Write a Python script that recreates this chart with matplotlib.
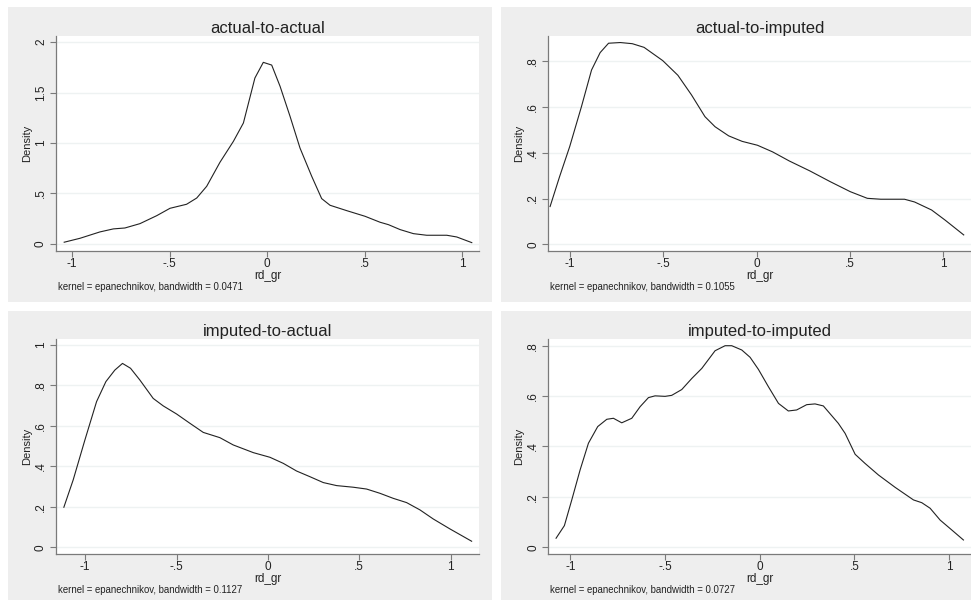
import matplotlib
matplotlib.use("Agg")
import matplotlib.pyplot as plt
from matplotlib.patches import Rectangle

plt.rcParams["font.family"] = ["Liberation Sans", "DejaVu Sans"]

W, H = 971, 600

# ---- data (kernel density curves of rd_gr) ----
aa_x = [-1.04, -0.959, -0.857, -0.788, -0.729, -0.652, -0.566, -0.498, -0.413, -0.361,
        -0.31, -0.242, -0.173, -0.122, -0.063, -0.02, 0.023, 0.066, 0.117, 0.168,
        0.228, 0.279, 0.322, 0.407, 0.501, 0.578, 0.621, 0.681, 0.749, 0.817,
        0.92, 0.971, 1.048]
aa_y = [0.017, 0.056, 0.119, 0.149, 0.158, 0.201, 0.28, 0.353, 0.393, 0.455,
        0.571, 0.809, 1.017, 1.198, 1.644, 1.799, 1.772, 1.561, 1.264, 0.95,
        0.67, 0.449, 0.383, 0.33, 0.274, 0.215, 0.191, 0.142, 0.102, 0.086,
        0.086, 0.069, 0.013]

ai_x = [-1.105, -1.054, -1.0, -0.937, -0.883, -0.837, -0.792, -0.729, -0.665, -0.602,
        -0.502, -0.421, -0.348, -0.276, -0.222, -0.149, -0.077, 0.005, 0.086, 0.176,
        0.285, 0.394, 0.502, 0.593, 0.665, 0.792, 0.846, 0.937, 1.009, 1.109]
ai_y = [0.165, 0.296, 0.427, 0.602, 0.762, 0.838, 0.879, 0.882, 0.877, 0.861,
        0.803, 0.739, 0.653, 0.558, 0.514, 0.474, 0.45, 0.433, 0.404, 0.364,
        0.321, 0.274, 0.23, 0.201, 0.197, 0.197, 0.185, 0.15, 0.106, 0.041]

ia_x = [-1.117, -1.066, -1.002, -0.938, -0.887, -0.838, -0.796, -0.752, -0.701, -0.628,
        -0.573, -0.5, -0.427, -0.354, -0.263, -0.19, -0.08, 0.011, 0.084, 0.157,
        0.23, 0.303, 0.376, 0.467, 0.54, 0.613, 0.686, 0.759, 0.832, 0.905,
        0.996, 1.115]
ia_y = [0.198, 0.333, 0.53, 0.72, 0.819, 0.876, 0.909, 0.885, 0.827, 0.736,
        0.699, 0.659, 0.613, 0.568, 0.542, 0.506, 0.468, 0.445, 0.415, 0.377,
        0.349, 0.32, 0.305, 0.297, 0.288, 0.267, 0.242, 0.221, 0.185, 0.14,
        0.091, 0.03]

ii_x = [-1.076, -1.032, -0.993, -0.949, -0.905, -0.856, -0.808, -0.773, -0.729, -0.676,
        -0.632, -0.588, -0.553, -0.5, -0.465, -0.412, -0.359, -0.306, -0.236, -0.183,
        -0.148, -0.095, -0.051, -0.007, 0.046, 0.099, 0.151, 0.195, 0.248, 0.292,
        0.336, 0.415, 0.451, 0.504, 0.556, 0.627, 0.715, 0.812, 0.856, 0.9,
        0.953, 1.014, 1.076]
ii_y = [0.036, 0.086, 0.188, 0.307, 0.413, 0.479, 0.508, 0.512, 0.494, 0.512,
        0.558, 0.594, 0.601, 0.599, 0.603, 0.626, 0.67, 0.71, 0.78, 0.8,
        0.8, 0.783, 0.754, 0.706, 0.637, 0.571, 0.541, 0.545, 0.566, 0.569,
        0.561, 0.492, 0.452, 0.369, 0.333, 0.287, 0.238, 0.188, 0.177, 0.155,
        0.108, 0.069, 0.029]

titles = ["actual-to-actual", "actual-to-imputed", "imputed-to-actual", "imputed-to-imputed"]
bandwidths = ["0.0471", "0.1055", "0.1127", "0.0727"]

x_ticks = [-1, -0.5, 0, 0.5, 1]
x_ticklabels = ["-1", "-.5", "0", ".5", "1"]
aa_yticks = [0, 0.5, 1, 1.5, 2]
aa_yticklabels = ["0", ".5", "1", "1.5", "2"]
ai_yticks = [0, 0.2, 0.4, 0.6, 0.8]
ai_yticklabels = ["0", ".2", ".4", ".6", ".8"]
ia_yticks = [0, 0.2, 0.4, 0.6, 0.8, 1]
ia_yticklabels = ["0", ".2", ".4", ".6", ".8", "1"]
ii_yticks = ai_yticks
ii_yticklabels = ai_yticklabels

# ---- layout (pixels): gray graph region, plot region, axis limits ----
panels = [
    dict(x=aa_x, y=aa_y, yt=aa_yticks, ytl=aa_yticklabels,
         bg=(8, 7, 484, 295), box=(56, 36, 479, 251),
         xlim=(-1.082, 1.085), ylim=(-0.07, 2.06)),
    dict(x=ai_x, y=ai_y, yt=ai_yticks, ytl=ai_yticklabels,
         bg=(501, 7, 480, 295), box=(548.3, 36, 971, 251),
         xlim=(-1.1145, 1.148), ylim=(-0.0293, 0.9106)),
    dict(x=ia_x, y=ia_y, yt=ia_yticks, ytl=ia_yticklabels,
         bg=(8, 311, 484, 300), box=(56, 339, 479.3, 554.3),
         xlim=(-1.16, 1.157), ylim=(-0.0346, 1.0297)),
    dict(x=ii_x, y=ii_y, yt=ii_yticks, ytl=ii_yticklabels,
         bg=(501, 311, 480, 300), box=(548.3, 339, 971, 554.3),
         xlim=(-1.117, 1.116), ylim=(-0.0278, 0.8266)),
]

BG = "#eeeeee"
AXC = "#7a7a7a"
TXT = "#222222"

fig = plt.figure(figsize=(W / 100, H / 100), dpi=100)
fig.patch.set_facecolor("white")

for i, p in enumerate(panels):
    bx, by, bw, bh = p["bg"]
    fig.patches.append(Rectangle((bx / W, 1 - (by + bh) / H), bw / W, bh / H,
                                 transform=fig.transFigure, facecolor=BG,
                                 edgecolor="none", zorder=-10))
    l, t, r, b = p["box"]
    ax = fig.add_axes([l / W, 1 - b / H, (r - l) / W, (b - t) / H])
    ax.set_facecolor("white")
    ax.plot(p["x"], p["y"], color="#222222", lw=0.8, zorder=3)
    ax.set_xlim(*p["xlim"])
    ax.set_ylim(*p["ylim"])
    ax.set_xticks(x_ticks)
    ax.set_xticklabels(x_ticklabels)
    ax.set_yticks(p["yt"])
    ax.set_yticklabels(p["ytl"], rotation=90, va="center")
    for yv in p["yt"]:
        ax.axhline(yv, color="#eef2f2", lw=1.0, zorder=1)
    for s in ("top", "right"):
        ax.spines[s].set_visible(False)
    for s in ("left", "bottom"):
        ax.spines[s].set_color(AXC)
        ax.spines[s].set_linewidth(0.9)
    ax.tick_params(axis="both", colors=AXC, labelcolor=TXT, length=4,
                   width=0.8, labelsize=8.5)
    ax.tick_params(axis="x", pad=1)
    ax.tick_params(axis="y", pad=2.5)
    ax.set_xlabel("rd_gr", fontsize=8.5, color=TXT, labelpad=-0.3)
    ax.set_ylabel("Density", fontsize=8, color=TXT, labelpad=2)
    ax.set_title(titles[i], fontsize=12, color=TXT, pad=2.5)
    fig.text((l + 2) / W, 1 - (b + 36) / H,
             f"kernel = epanechnikov, bandwidth = {bandwidths[i]}",
             fontsize=6.9, color=TXT, ha="left", va="center")

fig.savefig("out.png", dpi=100)
